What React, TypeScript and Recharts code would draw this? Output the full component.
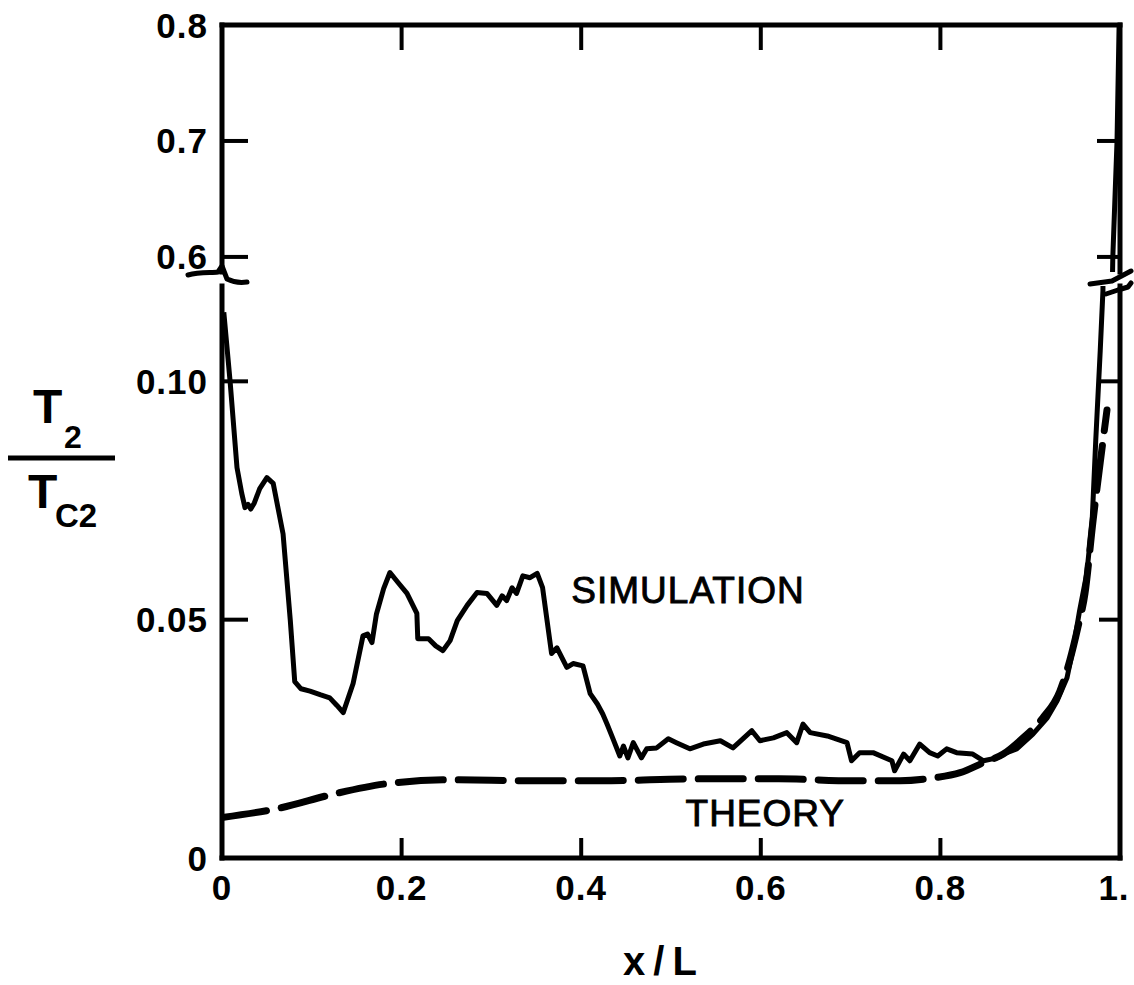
import { LineChart, Line, XAxis, YAxis, ReferenceDot, Label } from 'recharts';

// x/L positions and T2/Tc2 values
const simX = [
  0.002, 0.009, 0.0167, 0.022, 0.0256, 0.029, 0.032, 0.036, 0.042, 0.05, 0.057, 0.068, 0.076,
  0.081, 0.088, 0.098, 0.11, 0.12, 0.128, 0.135, 0.146, 0.157, 0.162, 0.167, 0.172, 0.18,
  0.187, 0.196, 0.206, 0.217, 0.218, 0.23, 0.238, 0.246, 0.254, 0.262, 0.273, 0.284, 0.295,
  0.306, 0.312, 0.317, 0.323, 0.328, 0.335, 0.343, 0.351, 0.357, 0.367, 0.373, 0.384, 0.391,
  0.402, 0.41, 0.418, 0.424, 0.429, 0.435, 0.443, 0.447, 0.452, 0.458, 0.467, 0.473, 0.484,
  0.497, 0.506, 0.521, 0.536, 0.555, 0.569, 0.58, 0.59, 0.599, 0.614, 0.629, 0.64, 0.647,
  0.655, 0.674, 0.696, 0.701, 0.71, 0.725, 0.746, 0.749, 0.759, 0.766, 0.777, 0.788, 0.797,
  0.807, 0.818, 0.836, 0.848, 0.863, 0.874, 0.885, 0.903, 0.919, 0.93, 0.941, 0.948, 0.955,
  0.963, 0.969, 0.973, 0.978, 0.981, 0.992, 0.9967, 0.999,
];
const simY = [
  0.1145, 0.1, 0.0819, 0.0765, 0.0735, 0.0742, 0.0732, 0.0745, 0.0775, 0.0798, 0.0786, 0.068, 0.05,
  0.037, 0.0355, 0.035, 0.0342, 0.0336, 0.032, 0.0305, 0.0366, 0.0466, 0.047, 0.0452, 0.0512, 0.0565,
  0.0599, 0.0578, 0.0555, 0.0513, 0.046, 0.046, 0.0445, 0.0435, 0.0456, 0.0498, 0.053, 0.0557, 0.0555,
  0.053, 0.055, 0.054, 0.0567, 0.0555, 0.0592, 0.0588, 0.0597, 0.0567, 0.0429, 0.0441, 0.04, 0.0408,
  0.0403, 0.0345, 0.0323, 0.0302, 0.028, 0.0252, 0.0214, 0.0235, 0.021, 0.0242, 0.021, 0.0229, 0.0231,
  0.025, 0.0242, 0.0229, 0.0239, 0.0246, 0.0231, 0.025, 0.0267, 0.0246, 0.0252, 0.0263, 0.0242, 0.0281,
  0.0263, 0.0256, 0.0242, 0.0204, 0.0221, 0.0221, 0.0204, 0.0183, 0.0218, 0.0204, 0.0239, 0.0221, 0.0214,
  0.0229, 0.0221, 0.0218, 0.0204, 0.021, 0.0221, 0.0229, 0.026, 0.0294, 0.033, 0.0378, 0.0441, 0.0519,
  0.0597, 0.0708, 0.0876, 0.1065, 0.119, 0.6, 0.7, 0.8,
];

const theoryX = [
  0, 0.065, 0.124, 0.18, 0.254, 0.346, 0.421, 0.532, 0.62, 0.703, 0.755, 0.792, 0.822, 0.848,
  0.87, 0.892, 0.914, 0.933, 0.944, 0.953, 0.961, 0.97, 0.978, 0.9855,
];
const theoryY = [
  0.0085, 0.0105, 0.0134, 0.0155, 0.0164, 0.0162, 0.0162, 0.0166, 0.0166, 0.0162, 0.0162, 0.0168,
  0.0179, 0.02, 0.0218, 0.0252, 0.0294, 0.035, 0.0414, 0.0483, 0.0555, 0.0708, 0.083, 0.094,
];

const xTicks = [0, 0.2, 0.4, 0.6, 0.8, 1];
const xTickLabels = ['0', '0.2', '0.4', '0.6', '0.8', '1.'];
const xMarks = [0.2, 0.4, 0.6, 0.8];
const upperTicks = [0.6, 0.7, 0.8];
const upperTickLabels = ['0.6', '0.7', '0.8'];
const upperMarks = [0.6, 0.7];
const lowerTicks = [0, 0.05, 0.1];
const lowerTickLabels = ['0', '0.05', '0.10'];
const lowerMarks = [0.05, 0.1];

const simLabel = { x: 0.519, y: 0.0562, text: 'SIMULATION' };
const theoryLabel = { x: 0.605, y: 0.0094, text: 'THEORY' };

const simulation = simX.map((x, i) => ({ x, y: simY[i] }));
const theory = theoryX.map((x, i) => ({ x, y: theoryY[i] }));

const FONT = '"Liberation Sans", Arial, Helvetica, sans-serif';
const axisLine = { stroke: '#000', strokeWidth: 5, strokeLinecap: 'square' as const };

type Side = 'left' | 'right' | 'top' | 'bottom';

const near = (list: number[], v: number) => list.findIndex((t) => Math.abs(t - v) < 1e-9);

function makeTick(side: Side, len: number, marks: number[], ticks?: number[], labels?: string[]) {
  return (props: any) => {
    const { x, y, payload } = props;
    const v = payload.value;
    const hasMark = near(marks, v) >= 0;
    const li = ticks && labels ? near(ticks, v) : -1;
    const ls = { stroke: '#000', strokeWidth: 4 };
    let line = null;
    if (hasMark) {
      if (side === 'left') line = <line x1={x} y1={y} x2={x + len} y2={y} {...ls} />;
      if (side === 'right') line = <line x1={x} y1={y} x2={x - len} y2={y} {...ls} />;
      if (side === 'top') line = <line x1={x} y1={y} x2={x} y2={y + len} {...ls} />;
      if (side === 'bottom') line = <line x1={x} y1={y} x2={x} y2={y - len} {...ls} />;
    }
    let text = null;
    if (li >= 0 && labels) {
      if (side === 'left') {
        text = (
          <text x={x - 14} y={y} textAnchor="end" dominantBaseline="central" stroke="none"
            fontSize={35} fontWeight="bold" letterSpacing={1} fontFamily={FONT} fill="#000">
            {labels[li]}
          </text>
        );
      }
      if (side === 'bottom') {
        // the last label sits against the right edge of the page
        const shift = v >= 1 ? -6 : 0;
        text = (
          <text x={x + shift} y={y + 29} textAnchor="middle" dominantBaseline="central" stroke="none"
            fontSize={35} fontWeight="bold" letterSpacing={1} fontFamily={FONT} fill="#000">
            {labels[li]}
          </text>
        );
      }
    }
    return (
      <g>
        {line}
        {text}
      </g>
    );
  };
}

export default function App() {
  return (
    <div style={{ position: 'absolute', left: 0, top: 0, width: 1134, height: 985, background: '#fff' }}>
      {/* upper part of the broken axis: 0.587 .. 0.8 */}
      <div style={{ position: 'absolute', left: 0, top: 0 }}>
        <LineChart width={1134} height={280} margin={{ top: 24, right: 13, bottom: 8, left: 221 }}>
          <XAxis xAxisId="t" type="number" dataKey="x" domain={[0, 1]} orientation="top" height={1}
            ticks={xMarks} tickSize={0} tickMargin={0} tick={makeTick('top', 25, xMarks)}
            axisLine={axisLine} tickLine={false} allowDataOverflow interval={0} />
          <YAxis yAxisId="l" type="number" domain={[0.587, 0.8]} width={1} ticks={upperTicks}
            tickSize={0} tickMargin={0} tick={makeTick('left', 26, upperMarks, upperTicks, upperTickLabels)}
            axisLine={axisLine} tickLine={false} allowDataOverflow interval={0} />
          <YAxis yAxisId="r" orientation="right" type="number" domain={[0.587, 0.8]} width={1}
            ticks={upperTicks} tickSize={0} tickMargin={0} tick={makeTick('right', 23, upperMarks)}
            axisLine={axisLine} tickLine={false} allowDataOverflow interval={0} />
          <Line xAxisId="t" yAxisId="l" data={simulation} dataKey="y" type="linear" stroke="#000"
            strokeWidth={5} dot={false} isAnimationActive={false} strokeLinejoin="round" />
        </LineChart>
      </div>

      {/* lower part: 0 .. 0.12 */}
      <div style={{ position: 'absolute', left: 0, top: 0 }}>
        <LineChart width={1134} height={985} margin={{ top: 286, right: 13, bottom: 126, left: 221 }}>
          <XAxis xAxisId="b" type="number" dataKey="x" domain={[0, 1]} height={1} ticks={xTicks}
            tickSize={0} tickMargin={0} tick={makeTick('bottom', 20, xMarks, xTicks, xTickLabels)}
            axisLine={axisLine} tickLine={false} allowDataOverflow interval={0} />
          <YAxis yAxisId="l" type="number" domain={[0, 0.12]} width={1} ticks={lowerTicks}
            tickSize={0} tickMargin={0} tick={makeTick('left', 26, lowerMarks, lowerTicks, lowerTickLabels)}
            axisLine={axisLine} tickLine={false} allowDataOverflow interval={0} />
          <YAxis yAxisId="r" orientation="right" type="number" domain={[0, 0.12]} width={1}
            ticks={lowerTicks} tickSize={0} tickMargin={0} tick={makeTick('right', 21, lowerMarks)}
            axisLine={axisLine} tickLine={false} allowDataOverflow interval={0} />
          <Line xAxisId="b" yAxisId="l" data={theory} dataKey="y" type="monotone" stroke="#000"
            strokeWidth={7} strokeDasharray="45 15" strokeLinecap="round" dot={false}
            isAnimationActive={false} />
          <Line xAxisId="b" yAxisId="l" data={simulation} dataKey="y" type="linear" stroke="#000"
            strokeWidth={5} dot={false} isAnimationActive={false} strokeLinejoin="round" />
          <ReferenceDot xAxisId="b" yAxisId="l" x={simLabel.x} y={simLabel.y} r={1} fill="none" stroke="none">
            <Label value={simLabel.text} position="center" fontSize={37} letterSpacing={1}
              fontFamily={FONT} fill="#000" stroke="#000" strokeWidth={0.9} />
          </ReferenceDot>
          <ReferenceDot xAxisId="b" yAxisId="l" x={theoryLabel.x} y={theoryLabel.y} r={1} fill="none" stroke="none">
            <Label value={theoryLabel.text} position="center" fontSize={37} letterSpacing={1}
              fontFamily={FONT} fill="#000" stroke="#000" strokeWidth={0.9} />
          </ReferenceDot>
        </LineChart>
      </div>

      {/* axis breaks and axis titles */}
      <svg width={1134} height={985} style={{ position: 'absolute', left: 0, top: 0, pointerEvents: 'none' }}>
        <g stroke="#000" strokeWidth={5} fill="none" strokeLinecap="round" strokeLinejoin="round">
          <path d="M188,275 C200,272 212,273 218,272 L222,266 L227,279 C233,282 240,283 247,282" />
          <path d="M1090,284 L1112,281 L1131,271" />
          <path d="M1106,294 L1118,290 L1128,287 L1131,283" />
        </g>
        <g fontFamily={FONT} fontWeight="bold" fill="#000">
          <text x={33} y={423} fontSize={48}>T</text>
          <text x={64} y={448} fontSize={32}>2</text>
          <line x1={8} y1={458} x2={115} y2={458} stroke="#000" strokeWidth={5} />
          <text x={28} y={508} fontSize={48}>T</text>
          <text x={55} y={527} fontSize={33}>C2</text>
          <text x={664} y={975} fontSize={40} textAnchor="middle" letterSpacing={8}>x/L</text>
        </g>
      </svg>
    </div>
  );
}
